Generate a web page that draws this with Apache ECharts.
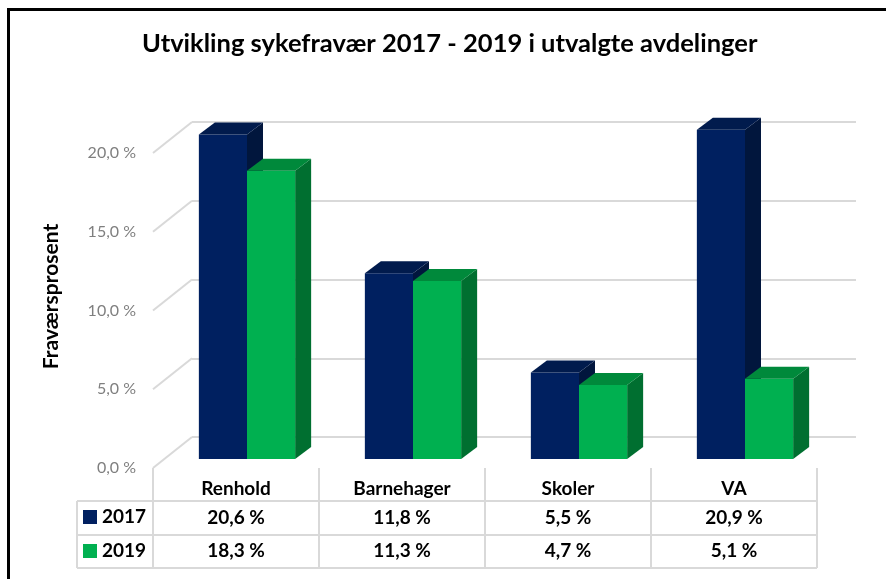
<!DOCTYPE html>
<html>
<head>
<meta charset="utf-8">
<script src="https://cdn.jsdelivr.net/npm/echarts@6/dist/echarts.min.js"></script>
<style>
  * { margin: 0; padding: 0; }
  body { width: 886px; height: 579px; overflow: hidden; background: #fff; position: relative; }
  #main { position: absolute; left: 0; top: 0; width: 886px; height: 579px; }
  #frame { position: absolute; left: 7px; top: 8px; width: 1000px; height: 1000px;
           border-left: 3px solid #000; border-top: 3px solid #000; pointer-events: none; }
</style>
</head>
<body>
<div id="main"></div>
<div id="frame"></div>
<script>
// data
var categories = ["Renhold", "Barnehager", "Skoler", "VA"];
var years = ["2017", "2019"];
var v2017 = [20.6, 11.8, 5.5, 20.9];
var v2019 = [18.3, 11.3, 4.7, 5.1];
var yTicks = [0, 5, 10, 15, 20];

var FONT = "Lato, 'Open Sans', sans-serif";
// farger: front, topp, side
var colors = [
  { front: "#002060", top: "#011b4d", side: "#01163d" },
  { front: "#00b050", top: "#00893b", side: "#006f30" }
];
// 3D-forskyvning
var FX = -28, FY = 22;   // stolpefront relativt til bakvegg
var DX = 16, DY = -12;   // stolpedybde
var WX = -39, WY = 31;   // veggdybde (bak -> front)

function pct(v) { return v.toFixed(1).replace(".", ",") + " %"; }

function bar3d(serieIdx) {
  return function (params, api) {
    var ci = api.value(0);
    var top = api.coord([ci, api.value(1)]);
    var bot = api.coord([ci, 0]);
    var band = api.size([1, 0])[0];
    var w = band * 0.29;
    var x0 = top[0] + FX + (serieIdx === 0 ? -w : 0);
    var x1 = x0 + w;
    var yt = top[1] + FY, yb = bot[1] + FY;
    var c = colors[serieIdx];
    return {
      type: "group",
      children: [
        { type: "polygon", shape: { points: [[x1, yt], [x1 + DX, yt + DY], [x1 + DX, yb + DY], [x1, yb]] }, style: { fill: c.side } },
        { type: "rect", shape: { x: x0, y: yt, width: w, height: yb - yt }, style: { fill: c.front } },
        { type: "polygon", shape: { points: [[x0, yt], [x1, yt], [x1 + DX, yt + DY], [x0 + DX, yt + DY]] }, style: { fill: c.top } }
      ]
    };
  };
}

// venstre vegg: skrå linjer + aksetekster på frontplanet
function wallLines(params, api) {
  var v = api.value(1);
  var p = api.coord([0, v]);
  var x = params.coordSys.x;
  return {
    type: "group",
    children: [
      { type: "line", shape: { x1: x, y1: p[1], x2: x + WX, y2: p[1] + WY },
        style: { stroke: "#d9d9d9", lineWidth: 2 } },
      { type: "text", style: { text: pct(v), x: x + WX - 17, y: p[1] + WY, align: "right", verticalAlign: "middle",
        font: "16px " + FONT, fill: "#7f7f7f" } }
    ]
  };
}

function tableCol(params, api) {
  var ci = api.value(0);
  var c = api.coord([ci, 0]);
  var band = api.size([1, 0])[0];
  var cx = c[0] + WX, base = c[1] + WY;
  var L = cx - band / 2, R = cx + band / 2;
  var rows = [base + 33, base + 67, base + 100];
  var line = { stroke: "#d9d9d9", lineWidth: 2 };
  var txt = function (s, y) {
    return { type: "text", style: { text: s, x: cx, y: y, align: "center", verticalAlign: "middle",
      font: "bold 19px " + FONT, fill: "#000" } };
  };
  var kids = [
    { type: "line", shape: { x1: L, y1: base, x2: L, y2: rows[2] }, style: line },
    txt(categories[ci], base + 21),
    txt(pct(v2017[ci]), base + 50),
    txt(pct(v2019[ci]), base + 83)
  ];
  var left = ci === 0 ? L - 76 : L;
  rows.forEach(function (y) {
    kids.push({ type: "line", shape: { x1: left, y1: y, x2: R, y2: y }, style: line });
  });
  if (ci === 0) kids.push({ type: "line", shape: { x1: left, y1: rows[0], x2: left, y2: rows[2] }, style: line });
  if (ci === categories.length - 1) kids.push({ type: "line", shape: { x1: R, y1: base, x2: R, y2: rows[2] }, style: line });
  return { type: "group", children: kids };
}

var chart = echarts.init(document.getElementById("main"));
chart.setOption({
  backgroundColor: "#fff",
  animation: false,
  title: {
    text: "Utvikling sykefravær 2017 - 2019 i utvalgte avdelinger",
    left: 142,
    top: 31,
    padding: 0,
    textStyle: { fontFamily: FONT, fontWeight: "bold", fontSize: 25.5, color: "#000" }
  },
  legend: {
    orient: "vertical",
    left: 83,
    top: 507,
    padding: 0,
    itemWidth: 14,
    itemHeight: 14,
    itemGap: 14,
    icon: "rect",
    data: years,
    textStyle: { fontFamily: FONT, fontWeight: "bold", fontSize: 19, lineHeight: 20, color: "#000" }
  },
  grid: { left: 192, right: 30, top: 122, bottom: 142 },
  xAxis: {
    type: "category",
    data: categories,
    axisLine: { show: false },
    axisTick: { show: false },
    axisLabel: { show: false }
  },
  yAxis: {
    type: "value",
    min: 0,
    max: 20,
    interval: 5,
    name: "Fraværsprosent",
    nameLocation: "middle",
    nameRotate: 90,
    nameGap: 130,
    nameTextStyle: { fontFamily: FONT, fontWeight: "bold", fontSize: 21, color: "#000", padding: [0, 34, 0, 0] },
    axisLine: { show: false },
    axisTick: { show: false },
    splitLine: { lineStyle: { color: "#d9d9d9", width: 2 } },
    axisLabel: { show: false }
  },
  series: [
    {
      type: "custom",
      name: "vegg",
      silent: true,
      renderItem: wallLines,
      data: yTicks.map(function (t) { return [0, t]; }),
      z: 1
    },
    {
      type: "custom",
      name: years[0],
      itemStyle: { color: colors[0].front },
      renderItem: bar3d(0),
      data: v2017.map(function (v, i) { return [i, v]; }),
      z: 2
    },
    {
      type: "custom",
      name: years[1],
      itemStyle: { color: colors[1].front },
      renderItem: bar3d(1),
      data: v2019.map(function (v, i) { return [i, v]; }),
      z: 2
    },
    {
      type: "custom",
      name: "tabell",
      silent: true,
      renderItem: tableCol,
      data: categories.map(function (c, i) { return [i, 0]; }),
      z: 1
    }
  ]
});
</script>
</body>
</html>
